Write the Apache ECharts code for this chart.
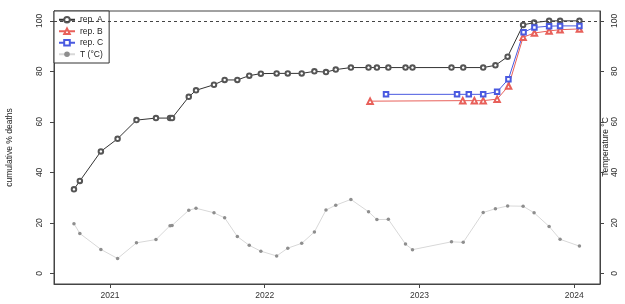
<!DOCTYPE html>
<html>
<head>
<meta charset="utf-8">
<script src="https://cdn.jsdelivr.net/npm/echarts@6/dist/echarts.min.js"></script>
<style>
  html, body { margin: 0; padding: 0; background: #fff; }
  #chart { width: 625px; height: 304px; }
</style>
</head>
<body>
<div id="chart"></div>
<script>
// sampling dates as decimal years
const datesA = [2020.767, 2020.805, 2020.941, 2021.049, 2021.171, 2021.297, 2021.388, 2021.401,
  2021.509, 2021.556, 2021.672, 2021.741, 2021.823, 2021.900, 2021.975, 2022.077, 2022.149,
  2022.239, 2022.321, 2022.396, 2022.459, 2022.557, 2022.671, 2022.725, 2022.799, 2022.910,
  2022.955, 2023.207, 2023.283, 2023.412, 2023.491, 2023.570, 2023.670, 2023.741, 2023.838,
  2023.909, 2024.034];
const repA = [33.3, 36.6, 48.3, 53.3, 60.7, 61.5, 61.5, 61.5, 69.9, 72.5, 74.7, 76.6, 76.6,
  78.3, 79.1, 79.2, 79.2, 79.2, 80.0, 79.7, 80.7, 81.5, 81.5, 81.5, 81.5, 81.5, 81.5, 81.5,
  81.5, 81.5, 82.4, 85.8, 98.4, 99.3, 100, 100, 100];
const tempC = [19.7, 15.8, 9.5, 5.9, 12.1, 13.4, 18.9, 19.0, 25.0, 25.8, 24.0, 22.0, 14.6,
  11.1, 8.8, 6.9, 10.0, 11.9, 16.4, 25.1, 27.0, 29.3, 24.4, 21.3, 21.4, 11.6, 9.4, 12.5,
  12.3, 24.1, 25.6, 26.7, 26.6, 24.0, 18.6, 13.5, 10.8];

const datesB = [2022.681, 2023.280, 2023.355, 2023.412, 2023.502, 2023.576, 2023.670,
  2023.743, 2023.838, 2023.909, 2024.034];
const repB = [68.2, 68.4, 68.4, 68.4, 69.0, 74.2, 93.5, 95.2, 96.0, 96.5, 96.8];

const datesC = [2022.784, 2023.243, 2023.319, 2023.412, 2023.502, 2023.575, 2023.673,
  2023.743, 2023.838, 2023.909, 2024.034];
const repC = [70.9, 70.9, 70.9, 70.9, 71.9, 76.9, 95.5, 97.4, 97.9, 98.0, 98.0];

const yearTicks = [2021, 2022, 2023, 2024];
const yTicks = [0, 20, 40, 60, 80, 100];

const zip = (xs, ys) => xs.map((x, i) => [x, ys[i]]);

const font = 'Liberation Sans, Arial, sans-serif';
const axisCol = '#444';

function yAxis(pos, name, gap) {
  return {
    type: 'value',
    position: pos,
    min: -4.2,
    max: 103.9,
    name: name,
    nameLocation: 'middle',
    nameRotate: 90,
    nameGap: gap,
    nameTextStyle: { fontFamily: font, fontSize: 8.5, color: '#222' },
    axisLine: { show: true, lineStyle: { color: axisCol, width: 1 } },
    axisTick: { show: true, length: 4, customValues: yTicks, lineStyle: { color: axisCol } },
    axisLabel: { rotate: 90, margin: 10, fontFamily: font, fontSize: 8.5, color: '#333', customValues: yTicks },
    splitLine: { show: false }
  };
}

const chart = echarts.init(document.getElementById('chart'));
chart.setOption({
  animation: false,
  grid: { left: 54, right: 25, top: 11, bottom: 20, outerBoundsMode: 'none', containLabel: false,
    show: true, borderColor: axisCol, borderWidth: 1 },
  legend: {
    orient: 'vertical',
    left: 54,
    top: 11,
    padding: [4, 6, 4, 4],
    itemGap: 2,
    itemWidth: 16,
    itemHeight: 7,
    backgroundColor: '#fff',
    borderColor: '#333',
    borderWidth: 1,
    borderRadius: 0,
    textStyle: { fontFamily: font, fontSize: 8.5, color: '#222', lineHeight: 9.5 },
    data: ['rep. A', 'rep. B', 'rep. C', 'T (°C)']
  },
  // right axis title sits between the axis line and its labels, as in the original
  graphic: [{
    type: 'text',
    x: 606, y: 147,
    rotation: Math.PI / 2,
    style: { text: 'Temperature °C', fontFamily: font, fontSize: 8.5, fill: '#222',
      align: 'center', verticalAlign: 'middle' }
  }],
  xAxis: {
    type: 'value',
    min: 2020.638,
    max: 2024.167,
    axisLine: { show: true, onZero: false, lineStyle: { color: axisCol } },
    axisTick: { show: true, length: 4, customValues: yearTicks, lineStyle: { color: axisCol } },
    axisLabel: { margin: 7, fontFamily: font, fontSize: 8.5, color: '#333', customValues: yearTicks,
      formatter: v => String(Math.round(v)) },
    splitLine: { show: false }
  },
  yAxis: [yAxis('left', 'cumulative % deaths', 40), yAxis('right', '', 5)],
  series: [
    {
      name: 'T (°C)', type: 'line', data: zip(datesA, tempC),
      symbol: 'circle', symbolSize: 3.5,
      lineStyle: { color: '#d8d8d8', width: 1 },
      itemStyle: { color: '#8e8e8e', borderWidth: 0 },
      z: 1
    },
    {
      name: 'rep. A', type: 'line', data: zip(datesA, repA),
      symbol: 'emptyCircle', symbolSize: 4.5,
      lineStyle: { color: '#333', width: 1 },
      itemStyle: { color: '#555', borderWidth: 0.8 },
      z: 3,
      markLine: {
        silent: true, symbol: 'none', label: { show: false },
        lineStyle: { color: '#444', type: [3, 3], width: 1 },
        data: [{ yAxis: 100 }]
      }
    },
    {
      name: 'rep. B', type: 'line', data: zip(datesB, repB),
      symbol: 'emptyTriangle', symbolSize: 5.5,
      lineStyle: { color: '#e8605a', width: 1 },
      itemStyle: { color: '#e8605a', borderWidth: 0.8 },
      z: 4
    },
    {
      name: 'rep. C', type: 'line', data: zip(datesC, repC),
      symbol: 'emptyRect', symbolSize: 4.5,
      lineStyle: { color: '#4a5ae0', width: 1 },
      itemStyle: { color: '#4a5ae0', borderWidth: 0.8 },
      z: 4
    }
  ]
});
</script>
</body>
</html>
